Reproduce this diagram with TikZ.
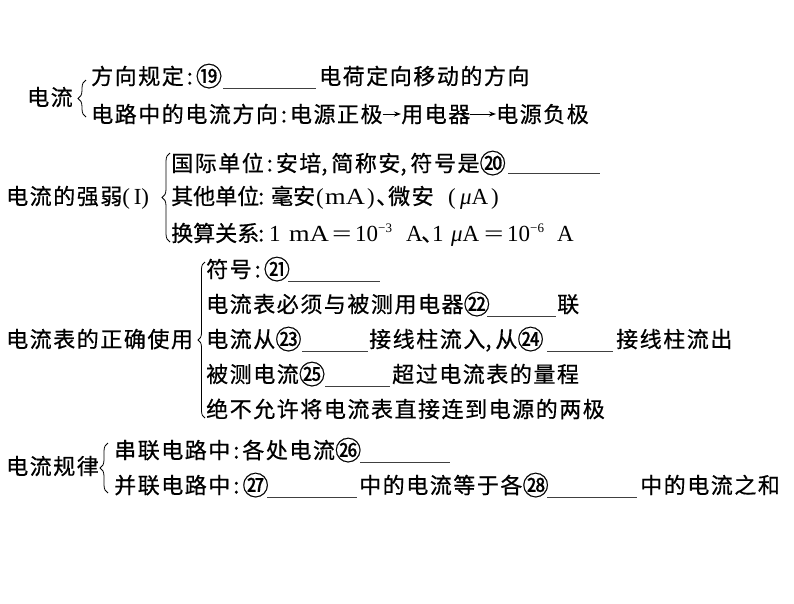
\documentclass[tikz,border=0pt]{standalone}
\usepackage{fontspec}
\setmainfont{Liberation Serif}
\newfontfamily\cjk[LetterSpace=7,FakeBold=0.6]{Noto Sans CJK SC}
\newfontfamily\cjkn[FakeBold=0.6]{Noto Sans CJK SC}
\usetikzlibrary{arrows.meta,decorations.pathreplacing}
\newcommand\cco{\hbox to 12pt{\hss:\hss}}
\newcommand\ccm{\hbox to 10pt{,\hss}}
\newcommand\latn[1]{{\rmfamily\fontsize{23pt}{26pt}\selectfont #1}}
\newcommand\supr[1]{\raisebox{9pt}{\rmfamily\fontsize{13pt}{14pt}\selectfont #1}}
\newcommand\pl[2]{\rlap{\hspace*{#1pt}#2}}
\newcommand\wideq{\latn{\scalebox{1.5}[1]{=}}}
\newcommand\wma{\latn{\scalebox{1.15}[1]{mA}}}
\newcommand\cn[1]{\raisebox{-1.7pt}{\scalebox{1.2}{#1}}}
\begin{document}
\begin{tikzpicture}[x=1pt,y=-1pt,
  txt/.style={anchor=west,inner sep=0pt,text height=18pt,text depth=1.2pt,font=\fontsize{22pt}{26pt}\selectfont\cjk},
  blank/.style={line width=0.9pt,draw=black!75},
  brc/.style={decorate,decoration={brace,amplitude=#1},line width=0.8pt},
  arr/.style={line width=1pt,-{Stealth[length=7pt,width=5pt]}}]
\fill[white] (0,0) rectangle (794,603);
\useasboundingbox (0,0) rectangle (794,603);
% group 1
\node[txt] (g1) at (27,97) {电流};
\draw[brc=8] (86,117) -- (86,80);
\node[txt] (g1a) at (91,76) {方向规定\cco\cn{⑲}};
\draw[blank] (223,88) -- (316,88);
\node[txt] (g1b) at (319,76) {电荷定向移动的方向};
\node[txt] (g1c) at (91,114) {电路中的电流方向\cco 电源正极};
\node[txt] (g1d) at (401,114) {用电器};
\node[txt] (g1e) at (496,114) {电源负极};
\draw[arr] (g1c.east) -- (g1d.west);
\draw[arr] (g1d.east) -- (g1e.west);
% group 2
\node[txt] (g2) at (6,196) {电流的强弱\latn{(\,I)}};
\draw[brc=8] (170,242) -- (170,153);
\node[txt] (g2a) at (171,163) {国际单位\cco 安培\ccm 简称安\ccm 符号是\cn{⑳}};
\draw[blank] (508,173) -- (600,173);
\node[txt] (g2b) at (171,196) {\pl{0}{\cjkn 其他单位}\pl{84}{\cco}\pl{100}{\cjkn 毫安}\pl{145}{\latn{(}}\pl{154}{\wma}\pl{196}{\latn{)}}\pl{205}{、}\pl{217}{微安}\pl{277}{\latn{(}}\pl{289}{\latn{\textit{μ}A}}\pl{320}{\latn{)}}\hspace*{328pt}};
\node[txt] (g2c) at (171,233) {\pl{0}{\cjkn 换算关系}\pl{84}{\cco}\pl{98}{\latn{1}}\pl{118}{\wma}\pl{161}{\wideq}\pl{184}{\latn{10}}\pl{207}{\supr{−3}}\pl{235}{\latn{A}}\pl{250}{、}\pl{261}{\latn{1}}\pl{280}{\latn{\textit{μ}A}}\pl{313}{\wideq}\pl{336}{\latn{10}}\pl{359}{\supr{−6}}\pl{386}{\latn{A}}\hspace*{402pt}};
% group 3
\node[txt] (g3) at (6,339) {电流表的正确使用};
\draw[brc=7] (205,418) -- (205,262);
\node[txt] (g3a) at (206,269) {符号\cco\cn{㉑}};
\draw[blank] (288,281) -- (380,281);
\node[txt] (g3b) at (206,304) {电流表必须与被测用电器\cn{㉒}};
\draw[blank] (487,316) -- (556,316);
\node[txt] (g3c) at (557,304) {联};
\node[txt] (g3d) at (206,339) {电流从\cn{㉓}};
\draw[blank] (302,351) -- (368,351);
\node[txt] (g3e) at (369,339) {接线柱流入\ccm 从\cn{㉔}};
\draw[blank] (547,351) -- (613,351);
\node[txt] (g3f) at (616,339) {接线柱流出};
\node[txt] (g3g) at (206,374) {被测电流\cn{㉕}};
\draw[blank] (325,386) -- (390,386);
\node[txt] (g3h) at (392,374) {超过电流表的量程};
\node[txt] (g3i) at (206,409) {绝不允许将电流表直接连到电源的两极};
% group 4
\node[txt] (g4) at (6,466) {电流规律};
\draw[brc=8] (108,493) -- (108,443);
\node[txt] (g4a) at (114,450) {串联电路中\cco 各处电流\cn{㉖}};
\draw[blank] (360,462) -- (450,462);
\node[txt] (g4b) at (114,485) {并联电路中\cco\cn{㉗}};
\draw[blank] (267,497) -- (357,497);
\node[txt] (g4c) at (359,485) {中的电流等于各\cn{㉘}};
\draw[blank] (547,497) -- (637,497);
\node[txt] (g4d) at (640,485) {中的电流之和};
\end{tikzpicture}
\end{document}
